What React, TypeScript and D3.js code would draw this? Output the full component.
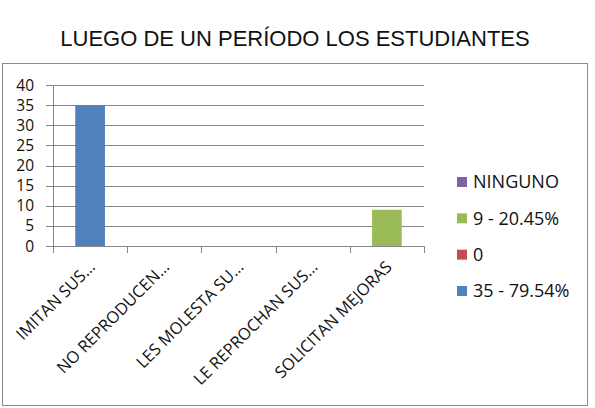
import { useEffect } from "react";
import * as d3 from "d3";

const title = "LUEGO DE UN PERÍODO LOS ESTUDIANTES";
const categories = [
  "IMITAN SUS…",
  "NO REPRODUCEN…",
  "LES MOLESTA SU…",
  "LE REPROCHAN SUS…",
  "SOLICITAN MEJORAS",
];
const values = [35, 0, 0, 0, 9];
const barColors = ["#4F81BD", "#C0504D", "#9BBB59", "#8064A2", "#9BBB59"];
const yTicks = [0, 5, 10, 15, 20, 25, 30, 35, 40];
const legendLabels = ["NINGUNO", "9 - 20.45%", "0", "35 - 79.54%"];
const legendColors = ["#8064A2", "#9BBB59", "#C0504D", "#4F81BD"];

const W = 595;
const H = 408;
const plot = { left: 53, right: 424, top: 85, bottom: 246 };
const axisFont = "'Open Sans', 'DejaVu Sans', sans-serif";

export default function App() {
  useEffect(() => {
    document.body.style.margin = "0";
  }, []);

  const x = d3
    .scaleBand()
    .domain(categories)
    .range([plot.left, plot.right])
    .padding(0);
  const y = d3.scaleLinear().domain([0, 40]).range([plot.bottom, plot.top]);
  const barW = x.bandwidth() * 0.4;

  const legendY = d3
    .scalePoint()
    .domain(legendLabels)
    .range([182, 291]);

  return (
    <svg width={W} height={H} style={{ display: "block", background: "#fff" }}>
      <text
        x={295}
        y={46}
        textAnchor="middle"
        fontFamily="'Liberation Sans', Arial, sans-serif"
        fontSize={22}
        fill="#111"
      >
        {title}
      </text>
      {/* chart frame */}
      <rect x={2.5} y={63.5} width={585} height={342} fill="none" stroke="#8a8a8a" />

      {/* gridlines + y ticks */}
      <g stroke="#878787" strokeWidth={1}>
        {yTicks.map((t) => (
          <line
            key={t}
            x1={plot.left - 7}
            x2={plot.right}
            y1={Math.round(y(t)) + 0.5}
            y2={Math.round(y(t)) + 0.5}
          />
        ))}
        <line
          x1={plot.left + 0.5}
          x2={plot.left + 0.5}
          y1={plot.top}
          y2={plot.bottom + 7}
        />
        {categories.map((c) => (
          <line
            key={c}
            x1={Math.round(x(c)! + x.bandwidth()) + 0.5}
            x2={Math.round(x(c)! + x.bandwidth()) + 0.5}
            y1={plot.bottom}
            y2={plot.bottom + 7}
          />
        ))}
      </g>

      <g fontFamily={axisFont} fontSize={15.5} fill="#111" textAnchor="end">
        {yTicks.map((t) => (
          <text key={t} x={34} y={y(t)} dy="0.36em">
            {t}
          </text>
        ))}
      </g>

      {/* bars */}
      <g>
        {categories.map((c, i) => (
          <rect
            key={c}
            x={x(c)! + x.bandwidth() / 2 - barW / 2}
            y={y(values[i])}
            width={barW}
            height={y(0) - y(values[i])}
            fill={barColors[i]}
          />
        ))}
      </g>

      {/* category labels */}
      <g fontFamily={axisFont} fontSize={16.5} fill="#111" textAnchor="end">
        {categories.map((c) => {
          const cx = x(c)! + x.bandwidth() / 2;
          return (
            <text key={c} transform={`translate(${cx + 6},${plot.bottom + 22}) rotate(-45)`}>
              {c}
            </text>
          );
        })}
      </g>

      {/* legend */}
      <g fontFamily={axisFont} fontSize={18} fill="#111">
        {legendLabels.map((l, i) => (
          <g key={l} transform={`translate(457,${legendY(l)})`}>
            <rect x={0} y={-5} width={10} height={10} fill={legendColors[i]} />
            <text x={16} y={0} dy="0.36em">
              {l}
            </text>
          </g>
        ))}
      </g>
    </svg>
  );
}
